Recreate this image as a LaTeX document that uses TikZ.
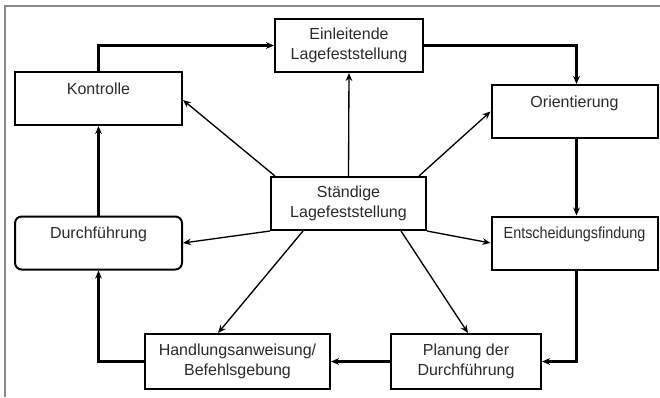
\documentclass[tikz,border=0pt]{standalone}
\usepackage{fontspec}
\setmainfont{Liberation Sans}
\usetikzlibrary{arrows.meta,calc}
\definecolor{txt}{HTML}{2A2A2A}
\definecolor{frame}{HTML}{8A8A8A}
\begin{document}
\begin{tikzpicture}[x=0.75pt,y=-0.75pt,
  box/.style={draw=black,line width=1.5pt,minimum height=39.75pt,inner sep=0pt,
    align=center,text=txt,font=\fontsize{12}{15}\selectfont},
  mainflow/.style={line width=1.6pt,-{Stealth[length=6pt,width=5pt]}},
  spoke/.style={line width=1.0pt,-{Stealth[length=6pt,width=5pt]}}]
\useasboundingbox (0,0) rectangle (660,397);
\draw[frame,line width=1.4pt] (5,397) -- (5,6) -- (660,6);

\node[box,minimum width=125.25pt] (kon) at (98.5,98.5) {Kontrolle\\~};
\node[box,minimum width=111pt] (ein) at (349,45.5) {Einleitende\\Lagefeststellung};
\node[box,minimum width=124.5pt] (ori) at (574.5,111.5) {Orientierung\\~};
\node[box,minimum width=116.25pt] (sta) at (348.5,203.5) {Ständige\\Lagefeststellung};
\node[box,minimum width=125.25pt,rounded corners=5pt] (dur) at (98.5,243) {Durchführung\\~};
\node[box,minimum width=124.5pt] (ent) at (574.5,243) {\scalebox{0.9}[1]{Entscheidungsfindung}\\~};
\node[box,minimum width=138.75pt,minimum height=41.25pt] (han) at (237.5,361.5) {Handlungsanweisung/\\Befehlsgebung};
\node[box,minimum width=112.5pt,minimum height=41.25pt] (pla) at (466,361.5) {Planung der\\Durchführung};

\draw[mainflow] (kon.north) |- (ein.west);
\draw[mainflow] (ein.east) -| ($(ori.north)+(2,0)$);
\draw[mainflow] ($(ori.south)+(2,0)$) -- ($(ent.north)+(2,0)$);
\draw[mainflow] ($(ent.south)+(2,0)$) |- (pla.east);
\draw[mainflow] (pla.west) -- (han.east);
\draw[mainflow] (han.west) -| (dur.south);
\draw[mainflow] (dur.north) -- (kon.south);

\draw[spoke] (sta.north) -- (ein.south);
\draw[spoke] ($(sta.north west)+(5,0)$) -- ($(kon.east)+(0,1.5)$);
\draw[spoke] ($(sta.north east)+(-8,0)$) -- (ori.west);
\draw[spoke] (sta.south west) -- (dur.east);
\draw[spoke] (sta.south east) -- (ent.west);
\draw[spoke] ($(sta.south)+(-45.5,0)$) -- ($(han.north)+(-19.5,0)$);
\draw[spoke] ($(sta.south)+(52.5,0)$) -- ($(pla.north)+(2,0)$);
\end{tikzpicture}
\end{document}
